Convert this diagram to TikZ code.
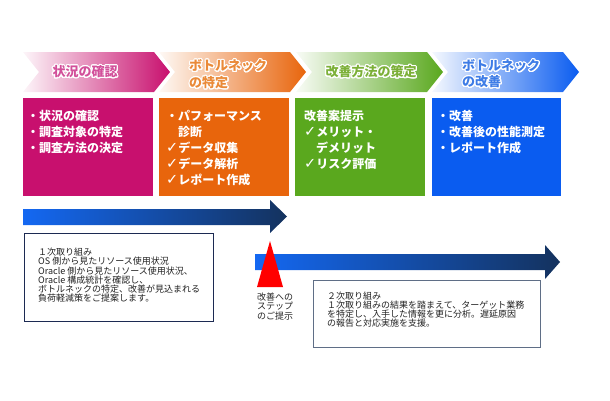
\documentclass[tikz,border=0pt]{standalone}
\usepackage{fontspec}
\setmainfont{Noto Sans CJK JP}
\newfontfamily\symfont{DejaVu Sans}
\usepackage{contour}
\contourlength{1.1pt}
\contournumber{24}
\definecolor{cMag}{HTML}{C8106E}
\definecolor{cOra}{HTML}{E8650C}
\definecolor{cGre}{HTML}{5AA81E}
\definecolor{cBlu}{HTML}{0A5CF0}
\definecolor{tMag}{HTML}{D2509A}
\definecolor{tOra}{HTML}{EA8A38}
\definecolor{tGre}{HTML}{7CB038}
\definecolor{tBlu}{HTML}{3E7CE6}
\definecolor{arL}{HTML}{1468F2}
\definecolor{arR}{HTML}{14325E}
\definecolor{navyline}{HTML}{1C2A52}
\definecolor{grayline}{HTML}{5F6E86}
\definecolor{lowtext}{HTML}{222222}
\newcommand{\chk}{{\symfont\mdseries\fontsize{14.5}{16}\selectfont ✓}}
\newcommand{\chevron}[2]{\shade[left color=white!96!#2, right color=#2]
  (#1,52) -- ++(131,0) -- ++(16,20) -- ++(-16,20) -- ++(-131,0) -- ++(16,-20) -- cycle;}
\begin{document}
\begin{tikzpicture}[x=1pt,y=-1pt,
  stepbox/.style={anchor=north west, inner sep=0, minimum width=130pt, minimum height=98pt},
  boxtxt/.style={anchor=north west, inner sep=0, align=left, text=white,
    font=\bfseries\fontsize{12}{16}\selectfont},
  headtxt/.style={inner sep=0, align=left, font=\bfseries\fontsize{13}{17}\selectfont},
  lowbox/.style={anchor=north west, inner sep=0, draw, line width=1pt, fill=white},
  lowtxt/.style={anchor=north west, inner sep=0, align=left, text=lowtext,
    font=\fontsize{9}{9.2}\selectfont}]
\useasboundingbox (0,0) rectangle (610,400);
% header chevrons
\chevron{23}{cMag}
\chevron{159}{cOra}
\chevron{296}{cGre}
\chevron{432}{cBlu}
\node[headtxt, text=tMag] (h1) at (85,72.5) {\contour{white}{状況の確認}};
\node[headtxt, text=tOra, anchor=west] (h2) at (189,75) {\contour{white}{ボトルネック}\\\contour{white}{の特定}};
\node[headtxt, text=tGre] (h3) at (371,72.5) {\contour{white}{改善方法の策定}};
\node[headtxt, text=tBlu, anchor=west, font=\bfseries\fontsize{13}{16}\selectfont] (h4) at (462,74.5) {\contour{white}{ボトルネック}\\\contour{white}{の改善}};
% content boxes
\node[stepbox, fill=cMag] (b1) at (23,98) {};
\node[stepbox, fill=cOra] (b2) at (159,98) {};
\node[stepbox, fill=cGre] (b3) at (295,98) {};
\node[stepbox, fill=cBlu, minimum width=129pt] (b4) at (432,98) {};
\node[boxtxt] (t1) at (27,110) {・状況の確認\\・調査対象の特定\\・調査方法の決定};
\node[boxtxt] (t2) at (166,110) {・パフォーマンス\\\hspace*{1em}診断\\\chk データ収集\\\chk データ解析\\\chk レポート作成};
\node[boxtxt] (t3) at (304,110) {改善案提示\\\chk メリット・\\\hspace*{1em}デメリット\\\chk リスク評価};
\node[boxtxt] (t4) at (437,110) {・改善\\・改善後の性能測定\\・レポート作成};
% timeline arrows
\shade[left color=arL, right color=arR]
  (23,209) -- (270,209) -- (270,200) -- (287,216.5) -- (270,233) -- (270,225) -- (23,225) -- cycle;
\shade[left color=arL, right color=arR]
  (255,254) -- (545,254) -- (545,245) -- (560,262) -- (545,279) -- (545,270) -- (255,270) -- cycle;
\fill[red] (270,241) -- (283,287) -- (257,287) -- cycle;
% lower boxes
\node[lowbox, draw=navyline, minimum width=189pt, minimum height=88pt] (l1) at (24,233) {};
\node[lowbox, draw=grayline, minimum width=227pt, minimum height=67pt] (l2) at (313,280) {};
\node[lowtxt] (lt1) at (38,248) {１次取り組み\\OS 側から見たリソース使用状況\\Oracle 側から見たリソース使用状況、\\Oracle 構成統計を確認し、\\ボトルネックの特定、改善が見込まれる\\負荷軽減策をご提案します。};
\node[lowtxt] (lt2) at (327,291.5) {２次取り組み\\１次取り組みの結果を踏まえて、ターゲット業務\\を特定し、入手した情報を更に分析。遅延原因\\の報告と対応実施を支援。};
\node[lowtxt, font=\fontsize{9}{9.6}\selectfont] (stepnote) at (257,292.5) {改善への\\ステップ\\のご提示};
\end{tikzpicture}
\end{document}
